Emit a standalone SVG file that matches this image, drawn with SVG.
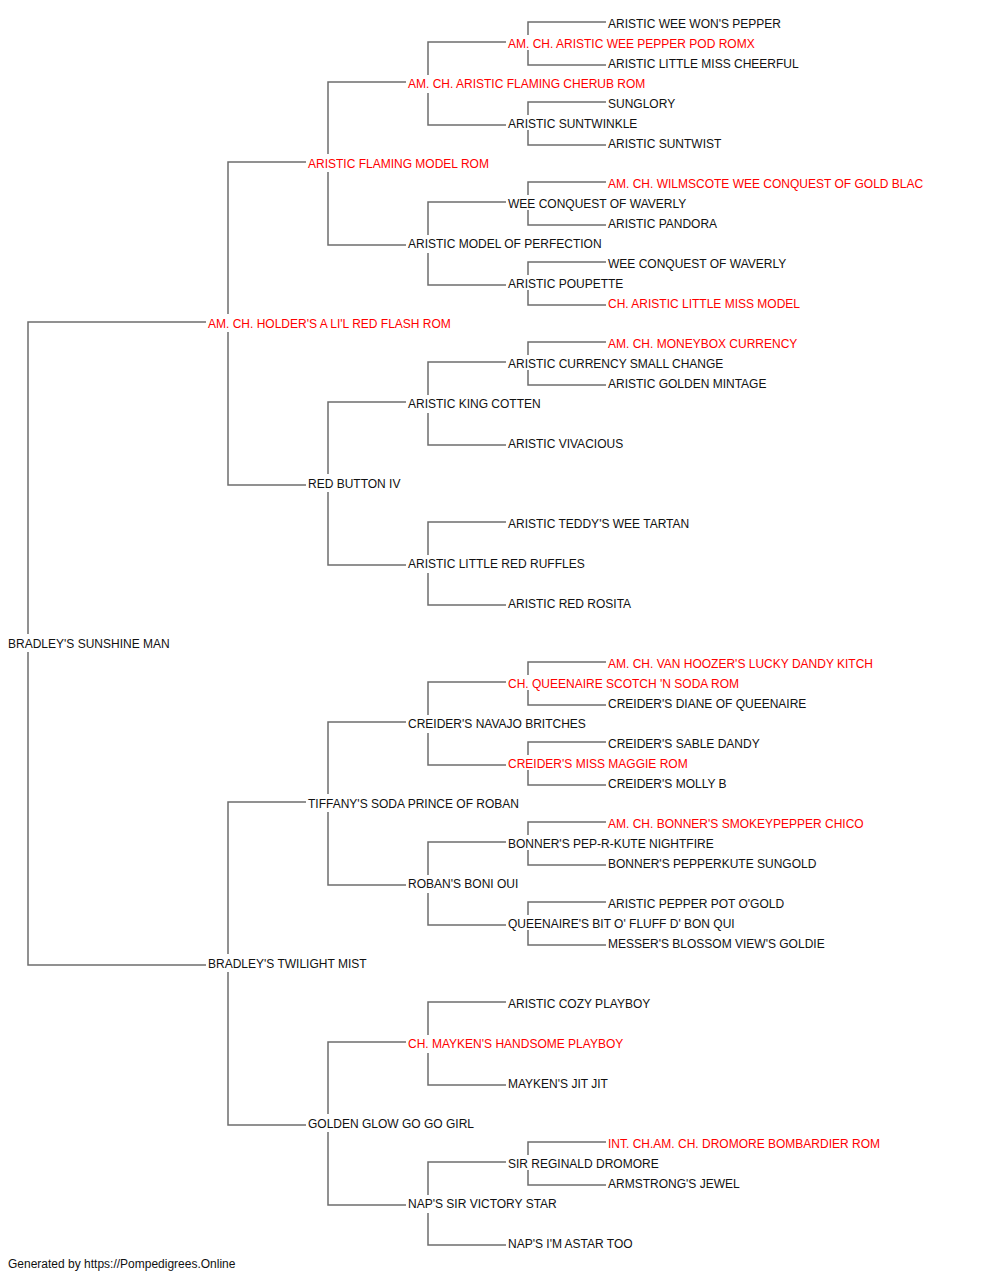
<svg xmlns="http://www.w3.org/2000/svg" width="1000" height="1280" viewBox="0 0 1000 1280">
<style>
text{font-family:"Liberation Sans",Arial,sans-serif;font-size:12px;fill:#111}
.r{fill:#ff0000}
.c path{fill:none;stroke:#6e6e6e;stroke-width:1.5}
</style>
<rect width="1000" height="1280" fill="#fff"/>
<g id="connectors" class="c">
<path d="M206 322 H28 V634 M28 652 V965 H206"/>
<path d="M306 162 H228 V314 M228 332 V485 H306"/>
<path d="M306 802 H228 V954 M228 972 V1125 H306"/>
<path d="M406 82 H328 V154 M328 172 V245 H406"/>
<path d="M406 402 H328 V474 M328 492 V565 H406"/>
<path d="M406 722 H328 V794 M328 812 V885 H406"/>
<path d="M406 1042 H328 V1114 M328 1132 V1205 H406"/>
<path d="M506 42 H428 V75 M428 93 V125 H506"/>
<path d="M506 202 H428 V235 M428 253 V285 H506"/>
<path d="M506 362 H428 V395 M428 413 V445 H506"/>
<path d="M506 522 H428 V555 M428 573 V605 H506"/>
<path d="M506 682 H428 V715 M428 733 V765 H506"/>
<path d="M506 842 H428 V875 M428 893 V925 H506"/>
<path d="M506 1002 H428 V1035 M428 1053 V1085 H506"/>
<path d="M506 1162 H428 V1195 M428 1213 V1245 H506"/>
<path d="M606 22 H528 V35 M528 50 V65 H606"/>
<path d="M606 102 H528 V115 M528 130 V145 H606"/>
<path d="M606 182 H528 V195 M528 210 V225 H606"/>
<path d="M606 262 H528 V275 M528 290 V305 H606"/>
<path d="M606 342 H528 V355 M528 370 V385 H606"/>
<path d="M606 662 H528 V675 M528 690 V705 H606"/>
<path d="M606 742 H528 V755 M528 770 V785 H606"/>
<path d="M606 822 H528 V835 M528 850 V865 H606"/>
<path d="M606 902 H528 V915 M528 930 V945 H606"/>
<path d="M606 1142 H528 V1155 M528 1170 V1185 H606"/>
</g>
<g id="n0"><text x="8" y="648">BRADLEY'S SUNSHINE MAN</text></g>
<g id="n1"><text class="r" x="208" y="328">AM. CH. HOLDER'S A LI'L RED FLASH ROM</text></g>
<g id="n2"><text x="208" y="968">BRADLEY'S TWILIGHT MIST</text></g>
<g id="n3"><text class="r" x="308" y="168">ARISTIC FLAMING MODEL ROM</text></g>
<g id="n4"><text x="308" y="488">RED BUTTON IV</text></g>
<g id="n5"><text x="308" y="808">TIFFANY'S SODA PRINCE OF ROBAN</text></g>
<g id="n6"><text x="308" y="1128">GOLDEN GLOW GO GO GIRL</text></g>
<g id="n7"><text class="r" x="408" y="88">AM. CH. ARISTIC FLAMING CHERUB ROM</text></g>
<g id="n8"><text x="408" y="248">ARISTIC MODEL OF PERFECTION</text></g>
<g id="n9"><text x="408" y="408">ARISTIC KING COTTEN</text></g>
<g id="n10"><text x="408" y="568">ARISTIC LITTLE RED RUFFLES</text></g>
<g id="n11"><text x="408" y="728">CREIDER'S NAVAJO BRITCHES</text></g>
<g id="n12"><text x="408" y="888">ROBAN'S BONI OUI</text></g>
<g id="n13"><text class="r" x="408" y="1048">CH. MAYKEN'S HANDSOME PLAYBOY</text></g>
<g id="n14"><text x="408" y="1208">NAP'S SIR VICTORY STAR</text></g>
<g id="n15"><text class="r" x="508" y="48">AM. CH. ARISTIC WEE PEPPER POD ROMX</text></g>
<g id="n16"><text x="508" y="128">ARISTIC SUNTWINKLE</text></g>
<g id="n17"><text x="508" y="208">WEE CONQUEST OF WAVERLY</text></g>
<g id="n18"><text x="508" y="288">ARISTIC POUPETTE</text></g>
<g id="n19"><text x="508" y="368">ARISTIC CURRENCY SMALL CHANGE</text></g>
<g id="n20"><text x="508" y="448">ARISTIC VIVACIOUS</text></g>
<g id="n21"><text x="508" y="528">ARISTIC TEDDY'S WEE TARTAN</text></g>
<g id="n22"><text x="508" y="608">ARISTIC RED ROSITA</text></g>
<g id="n23"><text class="r" x="508" y="688">CH. QUEENAIRE SCOTCH 'N SODA ROM</text></g>
<g id="n24"><text class="r" x="508" y="768">CREIDER'S MISS MAGGIE ROM</text></g>
<g id="n25"><text x="508" y="848">BONNER'S PEP-R-KUTE NIGHTFIRE</text></g>
<g id="n26"><text x="508" y="928">QUEENAIRE'S BIT O' FLUFF D' BON QUI</text></g>
<g id="n27"><text x="508" y="1008">ARISTIC COZY PLAYBOY</text></g>
<g id="n28"><text x="508" y="1088">MAYKEN'S JIT JIT</text></g>
<g id="n29"><text x="508" y="1168">SIR REGINALD DROMORE</text></g>
<g id="n30"><text x="508" y="1248">NAP'S I'M ASTAR TOO</text></g>
<g id="n31"><text x="608" y="28">ARISTIC WEE WON'S PEPPER</text></g>
<g id="n32"><text x="608" y="68">ARISTIC LITTLE MISS CHEERFUL</text></g>
<g id="n33"><text x="608" y="108">SUNGLORY</text></g>
<g id="n34"><text x="608" y="148">ARISTIC SUNTWIST</text></g>
<g id="n35"><text class="r" x="608" y="188">AM. CH. WILMSCOTE WEE CONQUEST OF GOLD BLAC</text></g>
<g id="n36"><text x="608" y="228">ARISTIC PANDORA</text></g>
<g id="n37"><text x="608" y="268">WEE CONQUEST OF WAVERLY</text></g>
<g id="n38"><text class="r" x="608" y="308">CH. ARISTIC LITTLE MISS MODEL</text></g>
<g id="n39"><text class="r" x="608" y="348">AM. CH. MONEYBOX CURRENCY</text></g>
<g id="n40"><text x="608" y="388">ARISTIC GOLDEN MINTAGE</text></g>
<g id="n41"><text class="r" x="608" y="668">AM. CH. VAN HOOZER'S LUCKY DANDY KITCH</text></g>
<g id="n42"><text x="608" y="708">CREIDER'S DIANE OF QUEENAIRE</text></g>
<g id="n43"><text x="608" y="748">CREIDER'S SABLE DANDY</text></g>
<g id="n44"><text x="608" y="788">CREIDER'S MOLLY B</text></g>
<g id="n45"><text class="r" x="608" y="828">AM. CH. BONNER'S SMOKEYPEPPER CHICO</text></g>
<g id="n46"><text x="608" y="868">BONNER'S PEPPERKUTE SUNGOLD</text></g>
<g id="n47"><text x="608" y="908">ARISTIC PEPPER POT O'GOLD</text></g>
<g id="n48"><text x="608" y="948">MESSER'S BLOSSOM VIEW'S GOLDIE</text></g>
<g id="n49"><text class="r" x="608" y="1148">INT. CH.AM. CH. DROMORE BOMBARDIER ROM</text></g>
<g id="n50"><text x="608" y="1188">ARMSTRONG'S JEWEL</text></g>
<text x="8" y="1268">Generated by https://Pompedigrees.Online</text>
</svg>
